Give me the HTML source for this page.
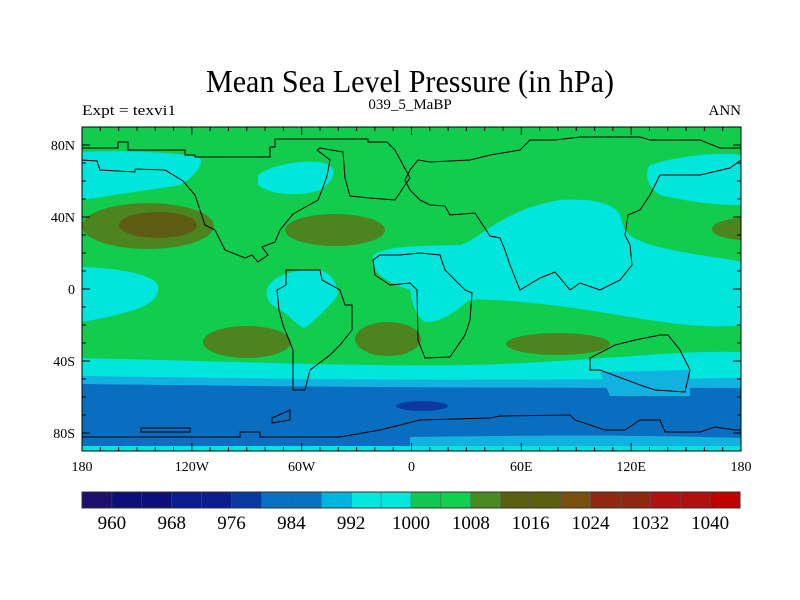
<!DOCTYPE html>
<html><head><meta charset="utf-8"><style>
html,body{margin:0;padding:0;background:#fff;}
svg{display:block;font-family:"Liberation Serif",serif;}
</style></head><body>
<svg id="chart" width="800" height="600" viewBox="0 0 800 600" xmlns="http://www.w3.org/2000/svg">
<text x="410" y="92" font-size="32" text-anchor="middle" textLength="408" lengthAdjust="spacingAndGlyphs">Mean Sea Level Pressure (in hPa)</text>
<text x="82" y="115" font-size="15" textLength="94" lengthAdjust="spacingAndGlyphs">Expt = texvi1</text>
<text x="410" y="109" font-size="15" text-anchor="middle">039_5_MaBP</text>
<text x="741" y="115" font-size="15" text-anchor="end">ANN</text>
<defs><clipPath id="mc"><rect x="82" y="127" width="659" height="324"/></clipPath></defs>
<g id="map" clip-path="url(#mc)">
<rect x="82" y="127" width="659" height="324" fill="#12cc4e"/>
<path d="M82,358 C250,362 400,368 500,364 C600,360 680,350 741,352 L741,460 L82,460Z" fill="#00e6dc"/>
<path d="M82,376 C250,378 400,382 741,378 L741,460 L82,460Z" fill="#12b2e0"/>
<path d="M82,384 C250,386 400,388 741,388 L741,438 C600,434 500,436 410,437 L410,446 L82,446Z" fill="#0a6ec0"/>
<rect x="82" y="446" width="659" height="6" fill="#00e6dc"/>
<path d="M600,372 L690,370 L690,396 L610,396Z" fill="#12b2e0"/>
<ellipse cx="422" cy="406" rx="26" ry="5" fill="#0a3aa0"/>
<path d="M82,152 C120,150 180,152 200,158 C205,165 190,180 180,185 C150,190 110,195 82,200Z" fill="#00e6dc"/>
<path d="M258,175 C270,165 300,160 320,162 C340,165 335,180 320,190 C300,197 270,195 258,185Z" fill="#00e6dc"/>
<path d="M650,165 C680,155 720,152 741,155 L741,205 C710,205 680,200 660,195 C645,185 645,172 650,165Z" fill="#00e6dc"/>
<path d="M373,255 C390,245 420,246 460,245 C480,240 500,210 560,200 C600,198 620,205 622,222 C625,238 640,245 700,255 C720,258 735,260 741,262 L741,325 C700,330 650,320 600,312 C540,302 480,298 470,300 C455,310 445,322 425,322 C414,315 412,300 410,290 C395,285 378,278 373,265Z" fill="#00e6dc"/>
<path d="M82,267 C110,268 150,272 158,285 C160,300 150,310 82,322Z" fill="#00e6dc"/>
<path d="M267,290 C270,275 300,268 320,270 C335,275 340,290 336,298 C325,310 315,320 305,328 C295,325 290,315 280,310 C270,305 265,298 267,290Z" fill="#00e6dc"/>
<ellipse cx="148" cy="226" rx="66" ry="23" fill="#4c8420"/>
<ellipse cx="158" cy="225" rx="39" ry="13" fill="#5e5c12"/>
<ellipse cx="335" cy="230" rx="50" ry="16" fill="#4c8420"/>
<ellipse cx="247" cy="342" rx="44" ry="16" fill="#4c8420"/>
<ellipse cx="388" cy="339" rx="33" ry="17" fill="#4c8420"/>
<ellipse cx="558" cy="344" rx="52" ry="11" fill="#4c8420"/>
<ellipse cx="745" cy="229" rx="33" ry="11" fill="#4c8420"/>
<g fill="none" stroke="#000" stroke-width="1">
<path d="M82,148 L118,148 L118,142 L128,142 L128,150 L185,150 L185,155 L195,155 L195,157 L270,157 L270,147 L275,147 L275,139 L368,139 L368,142 L387,142 L395,150 L410,178 L405,185 L395,200 L370,198 L350,196 L345,178 L343,152 L320,148 L317,150 L330,160 L327,176 L322,190 L318,200 L293,214 L280,230 L275,242 L262,247 L268,255 L258,262 L252,255 L245,258 L225,250 L215,230 L205,225 L195,195 L183,181 L165,170 L135,169 L135,172 L100,170 L97,161 L82,160"/>
<path d="M286,270 L320,270 L322,280 L340,290 L345,305 L352,305 L352,330 L340,345 L330,355 L310,370 L305,390 L293,390 L293,350 L283,325 L279,310 L277,290 L286,285Z"/>
<path d="M410,283 L417,290 L418,340 L425,358 L450,357 L465,335 L470,320 L472,293 L465,290 L445,270 L440,255 L420,253 L400,255 L380,255 L373,260 L375,275 L390,285Z"/>
<path d="M420,200 L430,205 L445,206 L450,215 L475,213 L490,236 L500,238 L505,250 L510,265 L520,290 L540,278 L555,272 L570,290 L580,283 L600,290 L620,280 L632,265 L630,245 L625,235 L628,215 L640,210 L650,195 L660,175 L700,175 L730,168 L741,160 L741,148 L720,148 L700,140 L650,140 L640,137 L580,137 L555,140 L530,140 L520,150 L490,155 L470,160 L430,162 L418,160 L410,170 L405,180 L410,190Z"/>
<path d="M590,370 L600,370 L640,385 L655,390 L685,392 L690,370 L680,350 L668,335 L660,335 L635,340 L615,345 L590,358Z"/>
<path d="M82,437 L240,437 L240,432 L260,432 L260,437 L340,437 L380,430 L420,420 L490,418 L500,416 L570,415 L575,420 L605,430 L625,430 L640,420 L660,420 L665,432 L700,432 L715,427 L735,430 L741,430"/>
<path d="M141,428 L190,428 L190,432 L141,432Z"/>
<path d="M272,418 L290,410 L290,420 L272,423Z"/>
</g>
</g>
<rect x="82" y="127" width="659" height="324" fill="none" stroke="#000" stroke-width="1"/>
<g id="ticks" stroke="#000" stroke-width="1"></g>
<g id="labels" font-size="14"></g>
<g id="cbar"></g>
</svg>
<script>
const xTickLons=[-180,-120,-60,0,60,120,180];
const xTickLabels=["180","120W","60W","0","60E","120E","180"];
const yTickLats=[80,40,0,-40,-80];
const yTickLabels=["80N","40N","0","40S","80S"];
const levels=[960,964,968,972,976,980,984,988,992,996,1000,1004,1008,1012,1016,1020,1024,1028,1032,1036,1040];
const levelLabels=["960","968","976","984","992","1000","1008","1016","1024","1032","1040"];
const colors=["#1d0f6b","#0c0f78","#0c0f78","#0a1d8c","#0a1d8c","#0a3aa0","#0a70c0","#0a70c0","#00b4e0","#00e8dc","#00e8dc","#10c850","#10d050","#4a8a20","#5a6010","#5a6010","#7a5010","#902810","#902810","#b01010","#b01010","#c00000"];
const NS="http://www.w3.org/2000/svg";
const X0=82,X1=741,Y0=127,Y1=451;
const xs=lon=>X0+(lon+180)/360*(X1-X0);
const ys=lat=>Y0+(90-lat)/180*(Y1-Y0);
function mk(t,a,p){const e=document.createElementNS(NS,t);for(const k in a)e.setAttribute(k,a[k]);p.appendChild(e);return e;}
const tg=document.getElementById('ticks'),lg=document.getElementById('labels');
for(let lon=-180;lon<=180;lon+=10){const x=xs(lon),L=lon%60===0?8:4;
 const t1=mk('line',{x1:x,y1:Y0,x2:x,y2:Y0+L},tg);
 const t2=mk('line',{x1:x,y1:Y1,x2:x,y2:Y1-L},tg);}
for(let lat=-90;lat<=90;lat+=10){const y=ys(lat),L=lat%40===0&&Math.abs(lat)<90?8:4;
 const t1=mk('line',{x1:X0,y1:y,x2:X0+L,y2:y},tg);
 const t2=mk('line',{x1:X1,y1:y,x2:X1-L,y2:y},tg);}
xTickLons.forEach((lon,i)=>{const t=mk('text',{x:xs(lon),y:471,'text-anchor':'middle'},lg);t.textContent=xTickLabels[i];
 });
yTickLats.forEach((lat,i)=>{const t=mk('text',{x:75,y:ys(lat)+5,'text-anchor':'end'},lg);t.textContent=yTickLabels[i];
 });
const cb=document.getElementById('cbar');const CX0=82,CX1=740,CY=492,CH=16,bw=(CX1-CX0)/colors.length;
colors.forEach((c,i)=>{const r=mk('rect',{x:CX0+i*bw,y:CY,width:bw+0.3,height:CH,fill:c},cb);
 });
mk('rect',{x:CX0,y:CY,width:CX1-CX0,height:CH,fill:'none',stroke:'#333','stroke-width':1},cb);
for(let i=1;i<colors.length;i++)mk('line',{x1:CX0+i*bw,y1:CY,x2:CX0+i*bw,y2:CY+CH,stroke:'#555','stroke-width':0.5},cb);
levelLabels.forEach(l=>{const idx=levels.indexOf(+l)+1;const t=mk('text',{x:CX0+idx*bw,y:529,'text-anchor':'middle','font-size':19},cb);
 t.textContent=l;});
</script>
</body></html>
